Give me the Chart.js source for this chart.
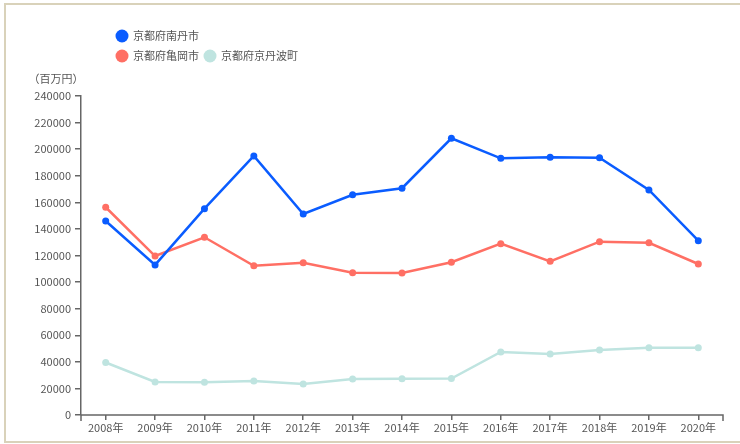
<!DOCTYPE html>
<html lang="ja">
<head>
<meta charset="UTF-8">
<title>京都府 市町村比較</title>
<script src="https://cdn.jsdelivr.net/npm/chart.js@4/dist/chart.umd.min.js"></script>
<style>
    html, body { margin: 0; padding: 0; background: #fff; }
    .wrap { position: relative; width: 740px; height: 444px; overflow: hidden; }
    .frame {
        position: absolute; left: 4px; top: 3px; width: 800px; height: 436px;
        border: 2px solid #d9d2ba;
    }
    canvas { position: absolute; left: 0; top: 0; }
</style>
</head>
<body>
<div class="wrap">
    <div class="frame"></div>
    <canvas id="lineChart" width="740" height="444"></canvas>
</div>
<script>
// 年次
const years = ['2008年', '2009年', '2010年', '2011年', '2012年', '2013年', '2014年',
               '2015年', '2016年', '2017年', '2018年', '2019年', '2020年'];

// 各市町の値（百万円）
const nantan = [146000, 112900, 155200, 194900, 151200, 165700, 170600,
                208200, 193100, 193900, 193600, 169300, 131100];
const kameoka = [156300, 119600, 133700, 112300, 114600, 107100, 106800,
                 114900, 128900, 115600, 130400, 129600, 113600];
const kyotamba = [39500, 24800, 24600, 25600, 23300, 27100, 27200,
                  27400, 47400, 45900, 48900, 50600, 50600];

// 縦軸の目盛
const yMin = 0;
const yMax = 240000;
const yStep = 20000;

const FONT = '"Noto Sans CJK JP", "Noto Sans", sans-serif';
const TEXT_COLOR = '#555';
const AXIS_COLOR = '#666';

// 凡例・単位・x軸線を描画するプラグイン
const legendPlugin = {
    id: 'customLegend',
    afterDraw(chart) {
        const ctx = chart.ctx;
        const ds = chart.data.datasets;
        const items = [
            { i: 0, x: 122, y: 36 },
            { i: 1, x: 122, y: 56 },
            { i: 2, x: 210, y: 56 }
        ];
        ctx.save();
        ctx.font = '11px ' + FONT;
        ctx.textBaseline = 'middle';
        items.forEach(it => {
            ctx.fillStyle = ds[it.i].borderColor;
            ctx.beginPath();
            ctx.arc(it.x, it.y, 6.5, 0, Math.PI * 2);
            ctx.fill();
            ctx.fillStyle = TEXT_COLOR;
            ctx.textAlign = 'left';
            ctx.fillText(ds[it.i].label, it.x + 11, it.y);
        });
        // 単位
        ctx.textAlign = 'center';
        ctx.fillText('（百万円）', 56, 79);

        // x軸線と両端の目盛
        const area = chart.chartArea;
        ctx.strokeStyle = AXIS_COLOR;
        ctx.lineWidth = 1.5;
        ctx.beginPath();
        ctx.moveTo(area.left, area.bottom + 6);
        ctx.lineTo(area.left, area.bottom);
        ctx.lineTo(area.right, area.bottom);
        ctx.lineTo(area.right, area.bottom + 6);
        ctx.stroke();
        ctx.restore();
    }
};

function makeDataset(label, data, color) {
    return {
        label: label,
        data: data,
        borderColor: color,
        backgroundColor: color,
        borderWidth: 2.5,
        pointRadius: 3.5,
        pointBackgroundColor: color,
        pointBorderWidth: 0,
        tension: 0,
        fill: false
    };
}

new Chart(document.getElementById('lineChart'), {
    type: 'line',
    data: {
        labels: years,
        datasets: [
            makeDataset('京都府南丹市', nantan, '#0a5cff'),
            makeDataset('京都府亀岡市', kameoka, '#ff6f64'),
            makeDataset('京都府京丹波町', kyotamba, '#bfe4e0')
        ]
    },
    options: {
        responsive: false,
        animation: false,
        layout: {
            padding: { left: 0, right: 17, top: 96, bottom: 0 }
        },
        plugins: {
            legend: { display: false },
            tooltip: { enabled: false }
        },
        scales: {
            x: {
                offset: true,
                afterFit: function(scale) { scale.height = 29; },
                grid: {
                    offset: false,
                    drawOnChartArea: false,
                    drawTicks: true,
                    tickLength: 5,
                    color: AXIS_COLOR,
                    lineWidth: 1.5
                },
                border: { display: false },
                ticks: {
                    font: { family: FONT, size: 11 },
                    color: TEXT_COLOR,
                    padding: 1,
                    maxRotation: 0,
                    autoSkip: false
                }
            },
            y: {
                min: yMin,
                max: yMax,
                afterFit: function(scale) { scale.width = 81; },
                grid: {
                    drawOnChartArea: false,
                    drawTicks: true,
                    tickLength: 6,
                    color: AXIS_COLOR,
                    lineWidth: 1.5
                },
                border: { display: true, color: AXIS_COLOR, width: 1.5 },
                ticks: {
                    stepSize: yStep,
                    font: { family: FONT, size: 11 },
                    color: TEXT_COLOR,
                    padding: 4,
                    callback: function(value) { return String(value); }
                }
            }
        }
    },
    plugins: [legendPlugin]
});
</script>
</body>
</html>
